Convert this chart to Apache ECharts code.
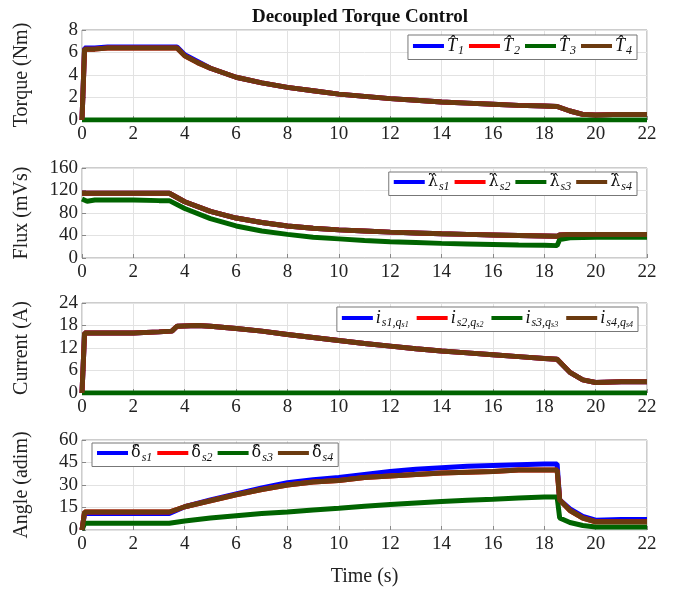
<!DOCTYPE html>
<html><head><meta charset="utf-8">
<script src="https://cdn.jsdelivr.net/npm/echarts@6/dist/echarts.min.js"></script>
<style>html,body{margin:0;padding:0;background:#fff}#c{width:681px;height:590px}</style>
</head><body><div id="c"></div>
<script>
// ---- data ----
const xTicks = [0,2,4,6,8,10,12,14,16,18,20,22];
const torqueTime = [0,0.1,0.5,1,2,3,3.7,4,4.5,5,6,7,8,9,10,11,12,13,14,15,16,17,18,18.5,19,19.5,20,21,22];
const torque1 = [0,6.4,6.4,6.5,6.5,6.5,6.5,5.8,5.2,4.6,3.8,3.3,2.9,2.6,2.3,2.1,1.9,1.75,1.6,1.5,1.4,1.3,1.25,1.2,0.8,0.5,0.45,0.5,0.5];
const torque2 = [0,6.3,6.3,6.4,6.4,6.4,6.4,5.7,5.1,4.6,3.8,3.3,2.9,2.6,2.3,2.1,1.9,1.75,1.6,1.5,1.4,1.3,1.25,1.2,0.8,0.5,0.45,0.5,0.5];
const torque3 = [0,0,0,0,0,0,0,0,0,0,0,0,0,0,0,0,0,0,0,0,0,0,0,0,0,0,0,0,0];
const torque4 = [0,6.3,6.3,6.4,6.4,6.4,6.4,5.7,5.1,4.6,3.8,3.3,2.9,2.6,2.3,2.1,1.9,1.75,1.6,1.5,1.4,1.3,1.25,1.2,0.8,0.5,0.45,0.5,0.5];

const fluxTime = [0,0.2,0.5,1,2,3,3.4,4,5,6,7,8,9,10,11,12,13,14,15,16,17,18,18.5,18.6,19,20,21,22];
const flux1 = [115,115,115,115,115,115,115,100,83,71,63,57,53,50,48,46,44.5,43,42,41,40,39,38.5,41,42,42,42,42];
const flux2 = flux1.slice();
const flux3 = [105,101,103,103,103,102,102,88,70,57,48,42,37,34,31,29,27.5,26,25,24,23,22.5,22,33,36,37,37,37];
const flux4 = flux1.slice();

const currTime = [0,0.1,0.5,1,2,3,3.5,3.7,4.5,5,6,7,8,9,10,11,12,13,14,15,16,17,18,18.5,19,19.5,20,21,22];
const curr1 = [0,16,16,16,16,16.3,16.5,17.8,18,17.8,17.2,16.5,15.6,14.8,14,13.2,12.5,11.8,11.2,10.7,10.2,9.7,9.2,9,5.5,3.5,2.8,3,3];
const curr2 = curr1.slice();
const curr3 = currTime.map(() => 0);
const curr4 = curr1.slice();

const angTime = [0,0.1,1,2,3,3.4,4,5,6,7,8,9,10,11,12,13,14,15,16,17,18,18.5,18.6,19,19.5,20,21,22];
const ang1 = [0,11,11,11,11,11,15.5,20,24,28,31.5,33.5,35,37,39,40.5,41.5,42.5,43,43.5,44,44,20,14,9,6.5,7,7];
const ang2 = [0,12,12,12,12,12,15.5,19.5,23.5,27,30,32,33,35,36,37,38,38.5,39,40,40,40,20,13,8,5.5,5.5,5.5];
const ang3 = [0,4.5,4.5,4.5,4.5,4.5,6,8,9.5,11,12,13.3,14.5,15.8,17,18,19,19.8,20.5,21.3,22,22,8,5,3,2,2,2];
const ang4 = ang2.slice();

const colors = ['#0000ff','#ff0000','#006400','#6b3a0f'];

// ---- build ----
const SERIF = '"Liberation Serif", "DejaVu Serif", serif';
const tops = [30, 168, 303, 440];
const panelH = 90;
const yNames = ['Torque (Nm)','Flux (mVs)','Current (A)','Angle (adim)'];
const yRanges = [[0,8,2],[0,160,40],[0,24,6],[0,60,15]];
const times = [torqueTime, fluxTime, currTime, angTime];
const values = [[torque1,torque2,torque3,torque4],[flux1,flux2,flux3,flux4],[curr1,curr2,curr3,curr4],[ang1,ang2,ang3,ang4]];
const names = [['T1','T2','T3','T4'],['L1','L2','L3','L4'],['I1','I2','I3','I4'],['D1','D2','D3','D4']];
const legendPos = [
  {right: 44, top: 35},
  {right: 44, top: 172},
  {right: 43, top: 307},
  {left: 92, top: 443}
];

const hat = '\u0302';
function legendLabel(n){
  const k = n[0], d = n[1];
  if (k === 'T') return '{m|T' + hat + '}{s|' + d + '}';
  if (k === 'L') return '{g|λ' + hat + '}{s|s' + d + '}';
  if (k === 'D') return '{g|δ' + hat + '}{s|s' + d + '}';
  return '{m|i}{s|s' + d + ',q}{ss|s' + d + '}';
}
const rich = {
  m: {fontFamily: SERIF, fontStyle: 'italic', fontSize: 18, color: '#111'},
  g: {fontFamily: '"DejaVu Serif", serif', fontSize: 16, color: '#111'},
  s: {fontFamily: SERIF, fontStyle: 'italic', fontSize: 12, color: '#111', padding: [9,0,0,1]},
  ss: {fontFamily: SERIF, fontStyle: 'italic', fontSize: 8, color: '#111', padding: [13,0,0,0]}
};

const grid = [], xAxis = [], yAxis = [], series = [], legend = [];
for (let p = 0; p < 4; p++) {
  grid.push({left: 82, right: 34, top: tops[p], height: panelH, show: true, borderColor: '#9a9a9a', borderWidth: 1, backgroundColor: '#fff'});
  xAxis.push({
    type: 'value', gridIndex: p, min: 0, max: 22, interval: 2,
    axisLine: {show: false}, axisTick: {inside: true, length: 4, lineStyle: {color: '#888'}},
    axisLabel: {fontFamily: SERIF, fontSize: 19, color: '#222', margin: 5},
    splitLine: {show: true, lineStyle: {color: '#e2e2e2', width: 1}},
    name: p === 3 ? 'Time (s)' : '', nameLocation: 'middle', nameGap: 37,
    nameTextStyle: {fontFamily: SERIF, fontSize: 20, color: '#222'}
  });
  yAxis.push({
    type: 'value', gridIndex: p, min: yRanges[p][0], max: yRanges[p][1], interval: yRanges[p][2],
    axisLine: {show: false}, axisTick: {inside: true, length: 4, lineStyle: {color: '#888'}},
    axisLabel: {fontFamily: SERIF, fontSize: 19, color: '#222', margin: 4},
    splitLine: {show: true, lineStyle: {color: '#e2e2e2', width: 1}},
    name: yNames[p], nameLocation: 'middle', nameRotate: 90, nameGap: 50,
    nameTextStyle: {fontFamily: SERIF, fontSize: 20, color: '#222'}
  });
  for (let s = 0; s < 4; s++) {
    const t = times[p], v = values[p][s];
    series.push({
      name: names[p][s], type: 'line', xAxisIndex: p, yAxisIndex: p,
      data: t.map((x, i) => [x, v[i]]),
      showSymbol: false, symbol: 'none', color: colors[s],
      lineStyle: {width: 5, color: colors[s]}, animation: false, z: 2 + s
    });
  }
  legend.push(Object.assign({
    data: names[p], orient: 'horizontal', icon: 'rect', itemWidth: 31, itemHeight: 4,
    itemGap: p === 2 ? 8 : 5,
    backgroundColor: '#fff', borderColor: '#777', borderWidth: 1, padding: [2, 5, 3, 5],
    formatter: legendLabel, textStyle: {rich: rich, fontFamily: SERIF, fontSize: 17, padding: [0,0,0,-2]},
    selectedMode: false
  }, legendPos[p]));
}

const chart = echarts.init(document.getElementById('c'), null, {renderer: 'canvas'});
chart.setOption({
  backgroundColor: '#fff',
  animation: false,
  title: {text: 'Decoupled Torque Control', left: 355, top: 3, textAlign: 'center',
    textStyle: {fontFamily: SERIF, fontWeight: 'bold', fontSize: 19, color: '#111'}},
  grid, xAxis, yAxis, series, legend
});
</script></body></html>
